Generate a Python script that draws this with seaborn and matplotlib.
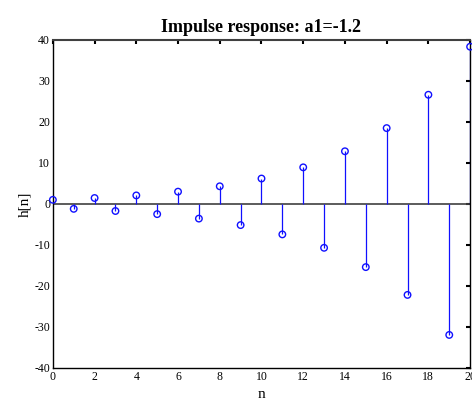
import numpy as np
import pandas as pd
import matplotlib
matplotlib.use('Agg')
import matplotlib.pyplot as plt
import seaborn as sns

sns.set_style('white')
plt.rcParams['font.family'] = ['Liberation Serif', 'DejaVu Serif']
plt.rcParams['axes.unicode_minus'] = False
plt.rcParams['text.color'] = 'black'
plt.rcParams['axes.labelcolor'] = 'black'

# impulse response values
n = list(range(21))
h = [1.0, -1.2, 1.44, -1.73, 2.07, -2.49, 2.99, -3.58, 4.30, -5.16, 6.19,
     -7.43, 8.92, -10.70, 12.84, -15.41, 18.49, -22.19, 26.62, -31.95, 38.34]
xticks = [0, 2, 4, 6, 8, 10, 12, 14, 16, 18, 20]
yticks = [-40, -30, -20, -10, 0, 10, 20, 30, 40]

df = pd.DataFrame({'n': n, 'h': h})

fig = plt.figure(figsize=(4.72, 4.03), dpi=100)
ax = fig.add_axes([0.112, 0.087, 0.884, 0.814])

ax.axhline(0, color='#404040', lw=1.2, zorder=1)
ax.vlines(df['n'], 0, df['h'], color='#1010ff', lw=0.9, zorder=2)
sns.scatterplot(data=df, x='n', y='h', ax=ax, marker='o', s=22,
                facecolor='none', edgecolor='#1010ff', linewidth=1.0,
                zorder=3, clip_on=False)

ax.set_xlim(0, 20)
ax.set_ylim(-40, 40)
ax.set_xticks(xticks)
ax.set_yticks(yticks)
ax.tick_params(direction='in', length=3, width=1.5, labelsize=8.5, pad=2,
               top=True, right=True, colors='black')
for s in ax.spines.values():
    s.set_color('black')
    s.set_linewidth(1.0)
ax.spines['top'].set_color('#404040')
ax.spines['top'].set_linewidth(1.5)

ax.set_xlabel('n', fontsize=11, labelpad=4)
ax.set_ylabel('h[n]', fontsize=11, labelpad=2)
ax.set_title('Impulse response: a1=-1.2', fontsize=13, fontweight='bold',
             pad=6, color='black')

fig.savefig('out.png', dpi=100)
